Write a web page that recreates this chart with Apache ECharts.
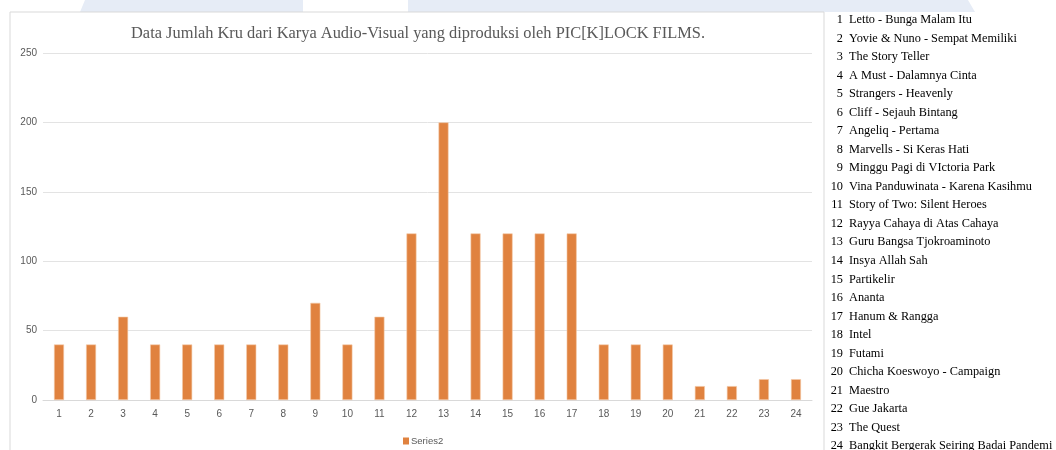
<!DOCTYPE html>
<html>
<head>
<meta charset="utf-8">
<script src="https://cdn.jsdelivr.net/npm/echarts@6/dist/echarts.min.js"></script>
<style>
html,body{margin:0;padding:0;background:#fff;}
#c{width:1056px;height:450px;}
</style>
</head>
<body>
<div id="c"></div>
<script>
var categories = ['1','2','3','4','5','6','7','8','9','10','11','12','13','14','15','16','17','18','19','20','21','22','23','24'];
var crewCounts = [40,40,60,40,40,40,40,40,70,40,60,120,200,120,120,120,120,40,40,40,10,10,15,15];
var seriesName = 'Series2';
var chartTitle = 'Data Jumlah Kru dari Karya Audio-Visual yang diproduksi oleh PIC[K]LOCK FILMS.';
var workTitles = [
  'Letto - Bunga Malam Itu',
  'Yovie & Nuno - Sempat Memiliki',
  'The Story Teller',
  'A Must - Dalamnya Cinta',
  'Strangers - Heavenly',
  'Cliff - Sejauh Bintang',
  'Angeliq - Pertama',
  'Marvells - Si Keras Hati',
  'Minggu Pagi di VIctoria Park',
  'Vina Panduwinata - Karena Kasihmu',
  'Story of Two: Silent Heroes',
  'Rayya Cahaya di Atas Cahaya',
  'Guru Bangsa Tjokroaminoto',
  'Insya Allah Sah',
  'Partikelir',
  'Ananta',
  'Hanum & Rangga',
  'Intel',
  'Futami',
  'Chicha Koeswoyo - Campaign',
  'Maestro',
  'Gue Jakarta',
  'The Quest',
  'Bangkit Bergerak Seiring Badai Pandemi'
];

var chart = echarts.init(document.getElementById('c'), null, {renderer:'canvas'});

var listEls = [];
workTitles.forEach(function(t, i){
  var y = 20 + i * 18.52;
  listEls.push({type:'text', x:843, y:y, style:{text:String(i+1), font:'12.3px "Liberation Serif", serif', fill:'#000', align:'right', verticalAlign:'middle'}});
  listEls.push({type:'text', x:849, y:y, style:{text:t, font:'12.3px "Liberation Serif", serif', fill:'#000', align:'left', verticalAlign:'middle'}});
});

var graphics = [
  {type:'polygon', silent:true, z:-10, shape:{points:[[85,0],[303,0],[303,12],[80,12]]}, style:{fill:'#e6ecf6'}},
  {type:'polygon', silent:true, z:-10, shape:{points:[[408,0],[968,0],[975,12],[408,12]]}, style:{fill:'#e6ecf6'}},
  {type:'rect', silent:true, z:-9, shape:{x:10, y:12, width:814, height:460}, style:{fill:'#fff', stroke:'#d9d9d9', lineWidth:1}},
  {type:'group', silent:true, children:listEls}
];

chart.setOption({
  animation:false,
  backgroundColor:'transparent',
  title:{
    text:chartTitle,
    left:413, textAlign:'center', top:21,
    textStyle:{fontFamily:'"Liberation Serif", serif', fontSize:16.4, fontWeight:'normal', color:'#595959'}
  },
  legend:{
    data:[seriesName],
    left:398, top:431,
    itemWidth:6, itemHeight:7, itemGap:4,
    icon:'rect',
    itemStyle:{borderWidth:0},
    textStyle:{fontFamily:'"Liberation Sans Narrow","Liberation Sans",sans-serif', fontSize:9.5, color:'#595959', padding:[0,0,0,-3]}
  },
  grid:{left:43, right:244, top:53, bottom:50, containLabel:false},
  xAxis:{
    type:'category', data:categories,
    axisLine:{lineStyle:{color:'#d9d9d9'}},
    axisTick:{show:false},
    axisLabel:{fontFamily:'"Liberation Sans Narrow","Liberation Sans",sans-serif', fontSize:10, color:'#595959', margin:9}
  },
  yAxis:{
    type:'value', min:0, max:250, interval:50,
    axisLine:{show:false}, axisTick:{show:false},
    splitLine:{lineStyle:{color:'#e3e3e3'}},
    axisLabel:{fontFamily:'"Liberation Sans Narrow","Liberation Sans",sans-serif', fontSize:10, color:'#595959', margin:6}
  },
  series:[{
    name:seriesName, type:'bar', data:crewCounts,
    barWidth:10,
    itemStyle:{color:'#e0823f', borderColor:'#f3c9a8', borderWidth:0.6}
  }],
  graphic:graphics
});
</script>
</body>
</html>
